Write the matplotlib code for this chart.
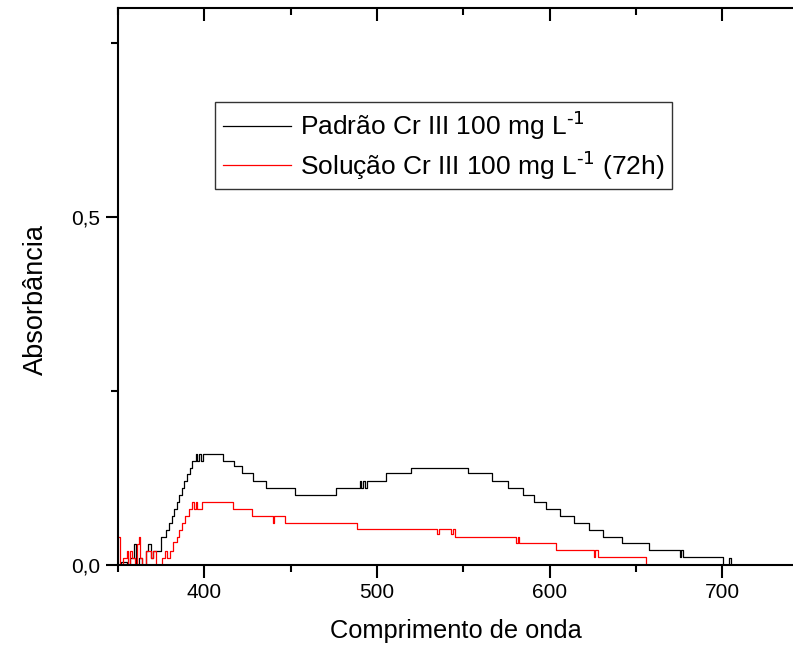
import matplotlib
matplotlib.use('Agg')
import matplotlib.pyplot as plt
from matplotlib.lines import TICKDOWN
from matplotlib.ticker import MultipleLocator, FixedLocator, FuncFormatter

plt.rcParams['font.family'] = ['Liberation Sans', 'DejaVu Sans']
plt.rcParams['mathtext.default'] = 'regular'

# Spectra stored as step levels: each absorbance holds from its wavelength to the next one
padrao_nm = [350, 352, 355, 357, 359, 360.5, 362, 364, 366, 367.5, 369, 370, 372,
             375, 378, 379.5, 381, 382.5, 384, 385.5, 387, 388.5, 390, 391.5, 393,
             395, 396, 397, 398, 399, 411, 417, 422, 428, 436, 452.5, 476, 490,
             491, 492, 493, 494, 505, 520, 552.6, 566.5, 576, 584.5, 591, 598, 606,
             614, 622.7, 631, 642, 657.5, 675.7, 676.3, 677, 700.3, 704.2, 705, 741]
padrao_abs = [0.0, 0.005, 0.0, 0.01, 0.03, 0.0, 0.01, 0.0, 0.02, 0.03, 0.01, 0.02, 0.02,
              0.04, 0.05, 0.06, 0.07, 0.08, 0.09, 0.10, 0.11, 0.12, 0.13, 0.14, 0.15,
              0.16, 0.15, 0.16, 0.15, 0.16, 0.15, 0.142, 0.132, 0.12, 0.11, 0.10, 0.11, 0.12,
              0.11, 0.12, 0.11, 0.12, 0.132, 0.14, 0.132, 0.12, 0.11, 0.10, 0.09, 0.08, 0.07,
              0.06, 0.05, 0.04, 0.031, 0.021, 0.011, 0.021, 0.011, 0.0, 0.01, 0.0, 0.0]

solucao_nm = [350, 351, 353, 355, 356, 357, 358, 360, 361, 362, 363, 364, 366, 367.5,
              369, 370, 372, 375.5, 377, 378.5, 380, 382, 384, 385.5, 387, 389, 391,
              393, 394, 395, 396, 398.6, 416.6, 427.6, 439.5, 440.5, 446.7, 488.4, 535,
              535.8, 543, 543.8, 545.1, 580.8, 581.5, 582.3, 604, 625.5, 626.5, 628, 656, 741]
solucao_abs = [0.04, 0.0, 0.01, 0.02, 0.0, 0.02, 0.01, 0.0, 0.03, 0.04, 0.01, 0.0, 0.02, 0.02,
               0.01, 0.02, 0.0, 0.01, 0.02, 0.01, 0.02, 0.033, 0.04, 0.05, 0.06, 0.07, 0.08,
               0.09, 0.08, 0.09, 0.08, 0.09, 0.08, 0.07, 0.06, 0.07, 0.06, 0.051, 0.045,
               0.051, 0.045, 0.051, 0.04, 0.031, 0.04, 0.031, 0.021, 0.011, 0.021, 0.011, 0.0, 0.0]

x_ticks = [400, 500, 600, 700]
y_ticks = [0.0, 0.5]

fig = plt.figure(figsize=(7.93, 6.5), dpi=100)
ax = fig.add_axes([118 / 793, 85 / 650, 675 / 793, 557 / 650])

ax.step(padrao_nm, padrao_abs, where='post', color='black', lw=0.9,
        label=r'Padrão Cr III 100 mg L$^{\text{-1}}$')
ax.step(solucao_nm, solucao_abs, where='post', color='red', lw=0.9,
        label=r'Solução Cr III 100 mg L$^{\text{-1}}$ (72h)')

ax.set_xlim(350, 741)
ax.set_ylim(0, 0.8)

ax.xaxis.set_major_locator(FixedLocator(x_ticks))
ax.xaxis.set_minor_locator(MultipleLocator(50))
ax.yaxis.set_major_locator(FixedLocator(y_ticks))
ax.yaxis.set_minor_locator(MultipleLocator(0.25))
ax.yaxis.set_major_formatter(FuncFormatter(lambda v, p: f'{v:.1f}'.replace('.', ',')))

ax.spines['right'].set_visible(False)
for side in ('left', 'bottom', 'top'):
    ax.spines[side].set_linewidth(1.5)

ax.tick_params(which='both', direction='out', width=1.5, labelsize=15, pad=4)
ax.tick_params(which='major', length=9)
ax.tick_params(which='minor', length=5)
ax.tick_params(axis='x', which='both', top=True)

# ticks on the top spine point inward
for t in ax.xaxis.get_major_ticks() + ax.xaxis.get_minor_ticks():
    t.tick2line.set_marker(TICKDOWN)

ax.set_xlabel('Comprimento de onda', fontsize=18.3, labelpad=12)
ax.set_ylabel('Absorbância', fontsize=19.5)
ax.yaxis.set_label_coords(-0.103, 0.476)

leg = ax.legend(loc='upper left', bbox_to_anchor=(0.144, 0.831), borderaxespad=0,
                fontsize=19, frameon=True, fancybox=False, handlelength=2.6,
                handletextpad=0.35, borderpad=0.28, labelspacing=0.25)
leg.get_frame().set_edgecolor('black')
leg.get_frame().set_linewidth(1.0)

fig.savefig('out.png', dpi=100)
